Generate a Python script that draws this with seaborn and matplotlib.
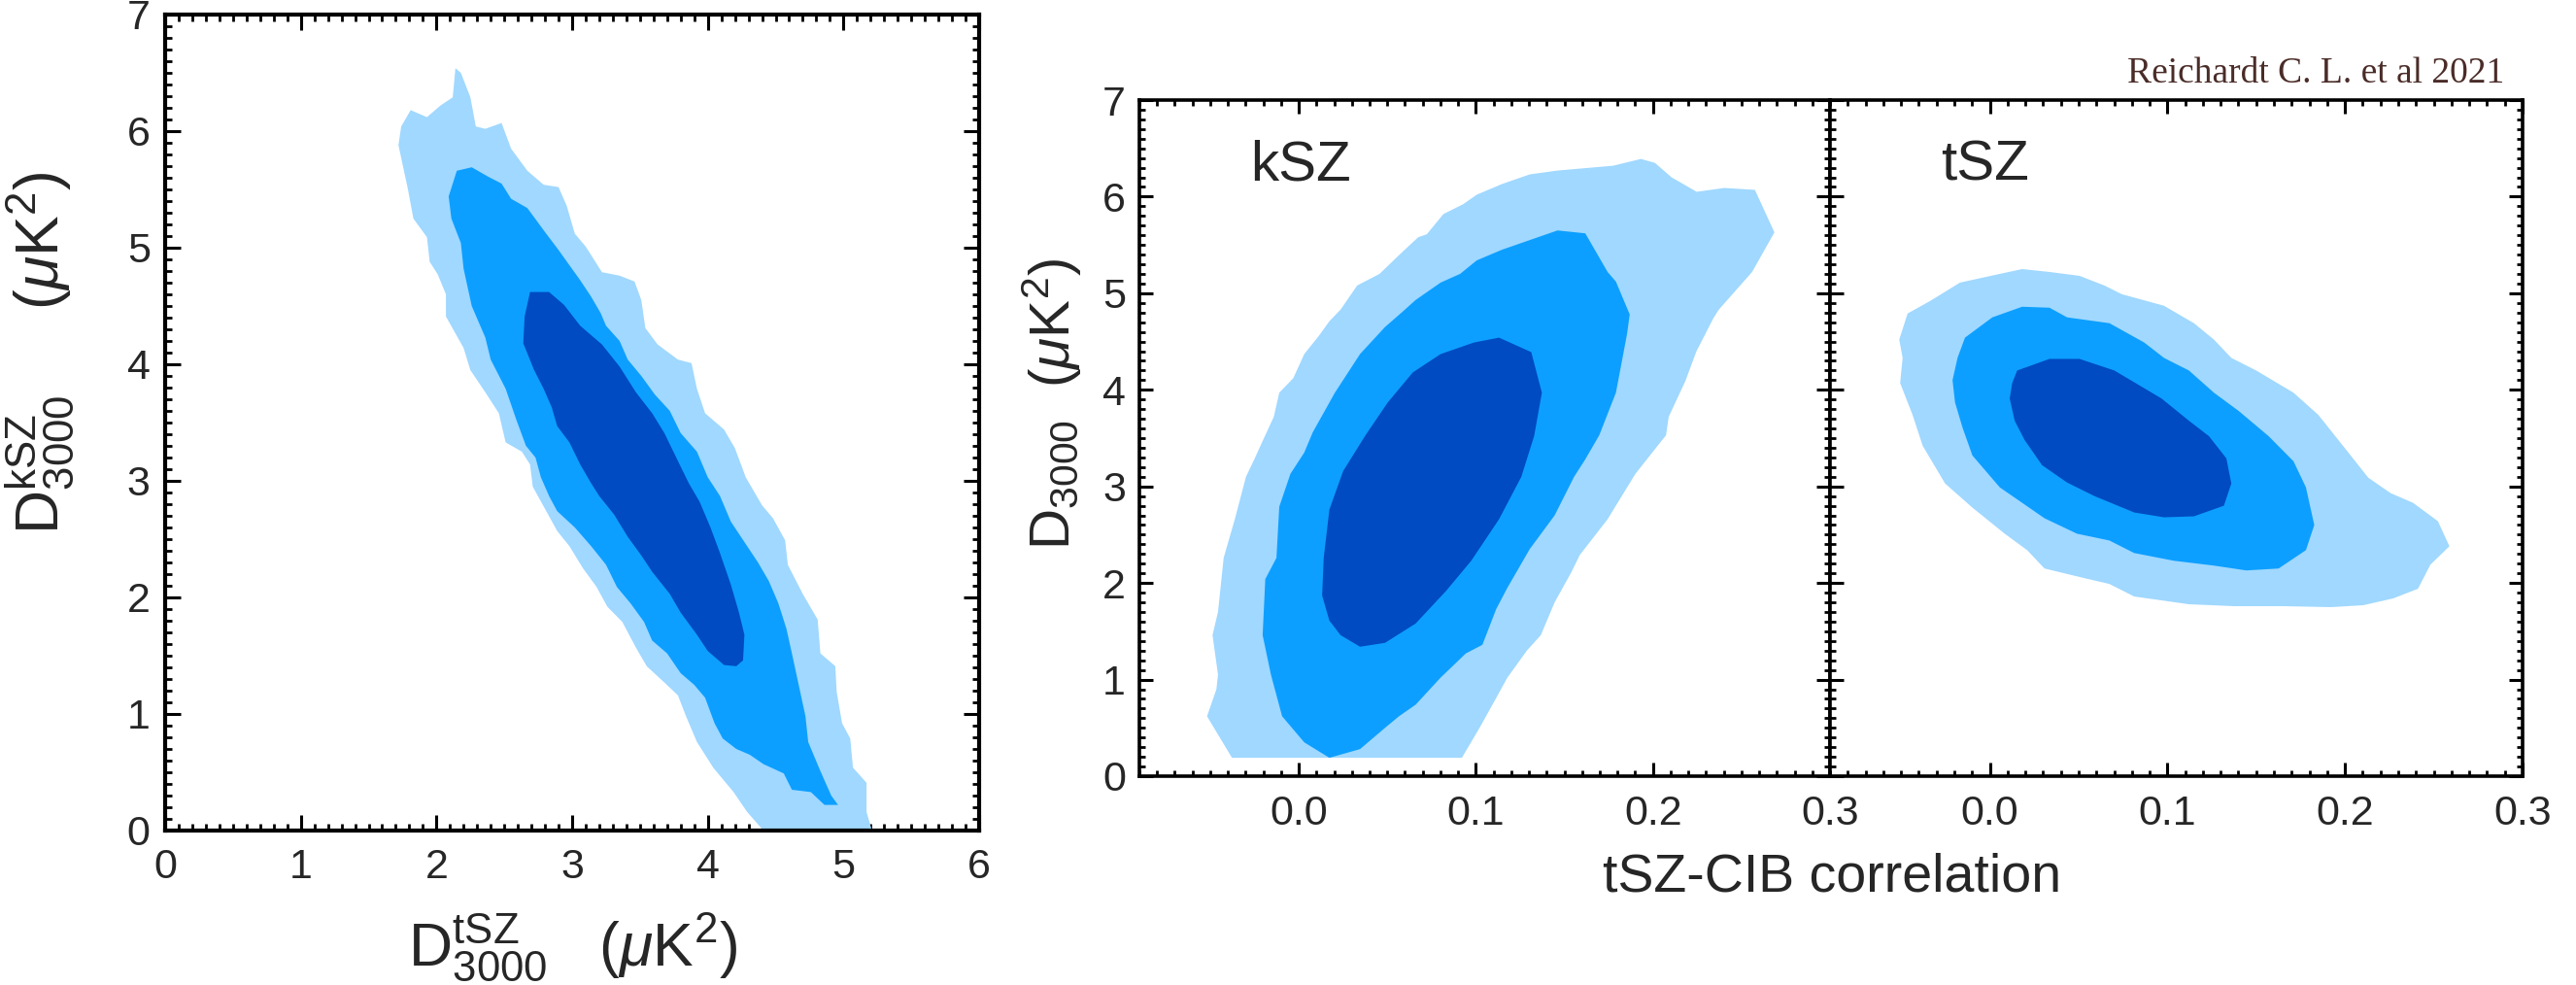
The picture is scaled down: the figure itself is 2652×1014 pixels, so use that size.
import numpy as np
import matplotlib
matplotlib.use("Agg")
import matplotlib.pyplot as plt
import seaborn as sns
from matplotlib.ticker import MultipleLocator

# ---------------- data (contour boundaries) ----------------
# Left panel: D3000^tSZ (x) vs D3000^kSZ (y)
tk_light_x = [2.14, 2.18, 2.25, 2.29, 2.36, 2.48, 2.55, 2.67, 2.79, 2.90, 2.96, 3.02, 3.10, 3.22, 3.35,
              3.46, 3.51, 3.54, 3.63, 3.78, 3.88, 3.92, 3.98, 4.12, 4.20, 4.28, 4.40, 4.48, 4.57, 4.59,
              4.70, 4.81, 4.83, 4.94, 4.95, 4.99, 5.05, 5.07, 5.17, 5.17, 5.21, 4.41, 4.29, 4.19, 4.04,
              3.92, 3.84, 3.78, 3.68, 3.55, 3.47, 3.37, 3.26, 3.18, 3.08, 2.98, 2.89, 2.80, 2.71, 2.69,
              2.63, 2.51, 2.46, 2.36, 2.25, 2.20, 2.07, 2.07, 2.01, 1.95, 1.93, 1.83, 1.79, 1.72, 1.74,
              1.81, 1.93, 2.03, 2.12]
tk_light_y = [6.54, 6.50, 6.29, 6.04, 6.02, 6.07, 5.85, 5.66, 5.54, 5.52, 5.36, 5.12, 5.01, 4.79, 4.76,
              4.71, 4.55, 4.31, 4.17, 4.04, 4.01, 3.79, 3.58, 3.44, 3.28, 3.03, 2.79, 2.68, 2.49, 2.28,
              2.03, 1.81, 1.52, 1.41, 1.19, 0.92, 0.79, 0.54, 0.41, 0.16, 0.00, 0.00, 0.16, 0.33, 0.54,
              0.76, 0.98, 1.16, 1.27, 1.41, 1.57, 1.79, 1.92, 2.09, 2.25, 2.44, 2.57, 2.76, 2.95, 3.14,
              3.25, 3.33, 3.58, 3.76, 3.95, 4.14, 4.41, 4.60, 4.77, 4.88, 5.09, 5.25, 5.50, 5.88, 6.04,
              6.18, 6.12, 6.22, 6.29]
tk_mid_x = [2.15, 2.26, 2.38, 2.48, 2.55, 2.67, 2.79, 2.90, 2.98, 3.06, 3.14, 3.21, 3.25, 3.35, 3.41,
            3.51, 3.61, 3.72, 3.80, 3.92, 4.00, 4.09, 4.17, 4.29, 4.37, 4.45, 4.52, 4.58, 4.62, 4.67,
            4.72, 4.74, 4.83, 4.91, 4.96, 4.86, 4.76, 4.62, 4.56, 4.41, 4.31, 4.21, 4.11, 4.05, 3.98,
            3.90, 3.80, 3.70, 3.59, 3.53, 3.43, 3.33, 3.25, 3.14, 3.02, 2.89, 2.83, 2.77, 2.73, 2.66,
            2.59, 2.51, 2.40, 2.36, 2.26, 2.20, 2.18, 2.11, 2.09]
tk_mid_y = [5.66, 5.69, 5.61, 5.55, 5.42, 5.34, 5.15, 4.98, 4.85, 4.72, 4.58, 4.44, 4.33, 4.20, 4.04,
            3.90, 3.74, 3.60, 3.41, 3.25, 3.03, 2.87, 2.65, 2.44, 2.30, 2.14, 1.95, 1.73, 1.52, 1.25,
            0.98, 0.76, 0.51, 0.30, 0.22, 0.22, 0.33, 0.35, 0.49, 0.57, 0.65, 0.70, 0.79, 0.92, 1.14,
            1.25, 1.35, 1.52, 1.63, 1.79, 1.95, 2.09, 2.28, 2.44, 2.60, 2.74, 2.87, 3.03, 3.20, 3.30,
            3.52, 3.79, 4.04, 4.23, 4.50, 4.82, 5.04, 5.25, 5.44]
tk_dark_x = [2.69, 2.83, 2.94, 3.06, 3.22, 3.35, 3.47, 3.59, 3.68, 3.78, 3.86, 3.94, 4.02, 4.09, 4.17,
             4.23, 4.27, 4.26, 4.21, 4.12, 4.00, 3.92, 3.80, 3.72, 3.59, 3.51, 3.41, 3.31, 3.20, 3.14,
             3.06, 2.98, 2.89, 2.85, 2.79, 2.72, 2.64, 2.65]
tk_dark_y = [4.62, 4.62, 4.51, 4.33, 4.17, 3.98, 3.76, 3.58, 3.41, 3.17, 2.98, 2.82, 2.60, 2.38, 2.11,
             1.87, 1.68, 1.46, 1.41, 1.42, 1.54, 1.68, 1.87, 2.03, 2.22, 2.36, 2.52, 2.71, 2.87, 2.98,
             3.14, 3.33, 3.47, 3.63, 3.79, 3.95, 4.18, 4.41]

# Middle panel: tSZ-CIB correlation (x) vs D3000 kSZ (y)
k_light_x = [-0.0377, -0.0518, -0.0465, -0.0456, -0.0487, -0.0456, -0.0424, -0.0361, -0.0298, -0.0251,
             -0.0204, -0.0141, -0.0110, -0.0031, 0.0031, 0.0110, 0.0173, 0.0236, 0.0330, 0.0456, 0.0581,
             0.0675, 0.0723, 0.0817, 0.0927, 0.1005, 0.1147, 0.1304, 0.1461, 0.1649, 0.1775, 0.1932,
             0.2011, 0.2105, 0.2247, 0.2403, 0.2576, 0.2686, 0.2560, 0.2372, 0.2341, 0.2246, 0.2183,
             0.2089, 0.2074, 0.1901, 0.1744, 0.1587, 0.1539, 0.1445, 0.1367, 0.1288, 0.1178, 0.1115,
             0.1021, 0.0921]
k_light_y = [0.19, 0.62, 0.90, 1.05, 1.46, 1.70, 2.26, 2.66, 3.10, 3.28, 3.47, 3.72, 3.97, 4.12, 4.37,
             4.55, 4.71, 4.83, 5.08, 5.20, 5.42, 5.58, 5.61, 5.82, 5.92, 6.02, 6.13, 6.23, 6.27, 6.30,
             6.32, 6.39, 6.35, 6.20, 6.05, 6.09, 6.07, 5.63, 5.22, 4.83, 4.74, 4.40, 4.09, 3.72, 3.53,
             3.13, 2.66, 2.29, 2.11, 1.80, 1.46, 1.30, 1.02, 0.81, 0.50, 0.19]
k_mid_x = [0.0173, 0.0031, -0.0094, -0.0157, -0.0204, -0.0189, -0.0126, -0.0110, -0.0047, 0.0031,
           0.0079, 0.0204, 0.0346, 0.0487, 0.0581, 0.0660, 0.0801, 0.0911, 0.1005, 0.1147, 0.1304,
           0.1461, 0.1618, 0.1744, 0.1791, 0.1869, 0.1854, 0.1791, 0.1697, 0.1618, 0.1555, 0.1445,
           0.1304, 0.1178, 0.1115, 0.1037, 0.0943, 0.0801, 0.0660, 0.0566, 0.0487, 0.0346]
k_mid_y = [0.19, 0.35, 0.62, 1.05, 1.46, 2.04, 2.26, 2.79, 3.13, 3.35, 3.56, 3.97, 4.37, 4.65, 4.80,
           4.93, 5.11, 5.20, 5.34, 5.45, 5.55, 5.65, 5.62, 5.22, 5.12, 4.78, 4.58, 3.97, 3.53, 3.28,
           3.10, 2.70, 2.35, 1.95, 1.73, 1.36, 1.27, 1.02, 0.74, 0.62, 0.50, 0.28]
k_dark_x = [0.0346, 0.0487, 0.0660, 0.0833, 0.0974, 0.1131, 0.1257, 0.1329, 0.1373, 0.1313, 0.1131,
            0.0990, 0.0801, 0.0644, 0.0503, 0.0377, 0.0251, 0.0173, 0.0141, 0.0132, 0.0173, 0.0236]
k_dark_y = [1.34, 1.38, 1.58, 1.92, 2.23, 2.66, 3.10, 3.52, 3.97, 4.39, 4.54, 4.49, 4.37, 4.18, 3.87,
            3.53, 3.16, 2.76, 2.26, 1.87, 1.61, 1.46]

# Right panel: tSZ-CIB correlation (x) vs D3000 tSZ (y)
t_light_x = [-0.0463, -0.0336, -0.0168, 0.0056, 0.0182, 0.0336, 0.0505, 0.0645, 0.0743, 0.0981, 0.1149,
             0.1262, 0.1360, 0.1500, 0.1710, 0.1850, 0.2019, 0.2131, 0.2257, 0.2383, 0.2523, 0.2588,
             0.2481, 0.2411, 0.2271, 0.2103, 0.1921, 0.1654, 0.1374, 0.1121, 0.0813, 0.0673, 0.0533,
             0.0308, 0.0210, 0.0084, -0.0098, -0.0252, -0.0378, -0.0435, -0.0505, -0.0491, -0.0510]
t_light_y = [4.79, 4.92, 5.11, 5.20, 5.25, 5.22, 5.18, 5.08, 4.99, 4.87, 4.69, 4.52, 4.33, 4.20, 3.97,
             3.74, 3.35, 3.09, 2.93, 2.83, 2.64, 2.38, 2.19, 1.94, 1.84, 1.77, 1.75, 1.76, 1.76, 1.78,
             1.86, 1.99, 2.05, 2.15, 2.34, 2.51, 2.78, 3.03, 3.42, 3.74, 4.07, 4.33, 4.52]
t_mid_x = [-0.0140, 0.0014, 0.0182, 0.0336, 0.0435, 0.0673, 0.0869, 0.0981, 0.1121, 0.1262, 0.1402,
           0.1570, 0.1710, 0.1780, 0.1827, 0.1780, 0.1626, 0.1444, 0.1262, 0.1037, 0.0813, 0.0673,
           0.0491, 0.0308, 0.0182, 0.0056, -0.0098, -0.0154, -0.0196, -0.0210, -0.0182]
t_mid_y = [4.54, 4.75, 4.86, 4.85, 4.75, 4.69, 4.49, 4.33, 4.20, 3.97, 3.78, 3.52, 3.26, 2.99, 2.60,
           2.34, 2.15, 2.13, 2.18, 2.23, 2.31, 2.44, 2.51, 2.67, 2.83, 2.99, 3.32, 3.61, 3.87, 4.10, 4.33]
t_dark_x = [0.0154, 0.0336, 0.0505, 0.0701, 0.0967, 0.1121, 0.1234, 0.1332, 0.1360, 0.1318, 0.1149,
            0.0981, 0.0813, 0.0589, 0.0435, 0.0294, 0.0196, 0.0140, 0.0112, 0.0126]
t_dark_y = [4.20, 4.32, 4.32, 4.20, 3.91, 3.68, 3.52, 3.29, 3.03, 2.80, 2.69, 2.68, 2.73, 2.90, 3.04,
            3.22, 3.48, 3.68, 3.91, 4.07]

left_xticks = [0, 1, 2, 3, 4, 5, 6]
left_yticks = [0, 1, 2, 3, 4, 5, 6, 7]
corr_ticks = [0.0, 0.1, 0.2, 0.3]
corr_ticklabels = ["0.0", "0.1", "0.2", "0.3"]
panel_names = ["kSZ", "tSZ"]
credit = "Reichardt C. L. et al 2021"

LIGHT, MID, DARK = "#a0d8ff", "#0d9fff", "#004bc2"

# ---------------- style ----------------
sns.set_theme(style="white")
plt.rcParams["font.family"] = ["Liberation Sans", "DejaVu Sans"]
plt.rcParams["mathtext.fontset"] = "custom"
plt.rcParams["mathtext.rm"] = "Liberation Sans"
plt.rcParams["mathtext.it"] = "Liberation Sans:italic"
plt.rcParams["mathtext.bf"] = "Liberation Sans:bold"

fig = plt.figure(figsize=(26.52, 10.14), dpi=100)
W, H = 2652.0, 1014.0

def box(l, t, r, b):
    return [l / W, (H - b) / H, (r - l) / W, (b - t) / H]

axL = fig.add_axes(box(170, 15, 1008, 855))
ax1 = fig.add_axes(box(1173, 103, 1884, 799))
ax2 = fig.add_axes(box(1884, 103, 2597, 799), sharey=ax1)

def style_ax(ax, spine_w, maj_len, min_len, lab_size, xpad, ypad):
    for s in ax.spines.values():
        s.set_linewidth(spine_w)
        s.set_color("black")
        s.set_visible(True)
    ax.tick_params(which="both", direction="in", top=True, right=True,
                   bottom=True, left=True, color="black")
    ax.tick_params(which="major", length=maj_len, width=2.2, labelsize=lab_size)
    ax.tick_params(which="minor", length=min_len, width=2.0)
    ax.tick_params(axis="x", which="major", pad=xpad)
    ax.tick_params(axis="y", which="major", pad=ypad)
    ax.set_facecolor("white")

# Left panel
for xs, ys, c in [(tk_light_x, tk_light_y, LIGHT), (tk_mid_x, tk_mid_y, MID), (tk_dark_x, tk_dark_y, DARK)]:
    axL.fill(xs, ys, color=c, lw=0, zorder=1)
axL.set_xlim(0, 6)
axL.set_ylim(0, 7)
axL.set_xticks(left_xticks)
axL.set_yticks(left_yticks)
axL.xaxis.set_minor_locator(MultipleLocator(0.1))
axL.yaxis.set_minor_locator(MultipleLocator(0.1))
style_ax(axL, 3.0, 11.5, 5.0, 31, 13, 11)
axL.set_xlabel(r"$\mathrm{D}^{\mathrm{tSZ}}_{\mathrm{3000}}$   ($\mu$K$^{2}$)", fontsize=45)
axL.xaxis.set_label_coords(0.5, -0.10)
axL.set_ylabel(r"$\mathrm{D}^{\mathrm{kSZ}}_{\mathrm{3000}}$     ($\mu$K$^{2}$)", fontsize=45)
axL.yaxis.set_label_coords(-0.108, 0.585)

# Right panels
for ax, name, polys in [
    (ax1, panel_names[0], [(k_light_x, k_light_y, LIGHT), (k_mid_x, k_mid_y, MID), (k_dark_x, k_dark_y, DARK)]),
    (ax2, panel_names[1], [(t_light_x, t_light_y, LIGHT), (t_mid_x, t_mid_y, MID), (t_dark_x, t_dark_y, DARK)]),
]:
    for xs, ys, c in polys:
        ax.fill(xs, ys, color=c, lw=0, zorder=1)
    ax.set_xlim(-0.09, 0.3)
    ax.set_xticks(corr_ticks)
    ax.set_xticklabels(corr_ticklabels)
    ax.xaxis.set_minor_locator(MultipleLocator(0.01))
    ax.yaxis.set_minor_locator(MultipleLocator(0.1))
    style_ax(ax, 2.6, 10, 4.5, 31, 14, 10)
    ax.text(0.16, 0.882, name, transform=ax.transAxes, fontsize=42, ha="left", va="baseline")

ax1.set_ylim(0, 7)
ax1.set_yticks(left_yticks)
ax2.tick_params(axis="y", which="both", labelleft=False)
ax1.set_ylabel(r"$\mathrm{D}_{\mathrm{3000}}$  ($\mu$K$^{2}$)", fontsize=42)
ax1.yaxis.set_label_coords(-0.08, 0.55)

fig.text(1886 / W, (H - 903) / H, "tSZ-CIB correlation", fontsize=40, ha="center", va="center")
fig.text(2578 / W, (H - 85) / H, credit, fontsize=27, ha="right", va="baseline",
         color="#4a2c28", family=["Liberation Serif", "DejaVu Serif"])

fig.savefig("out.png", dpi=100, facecolor="white")
